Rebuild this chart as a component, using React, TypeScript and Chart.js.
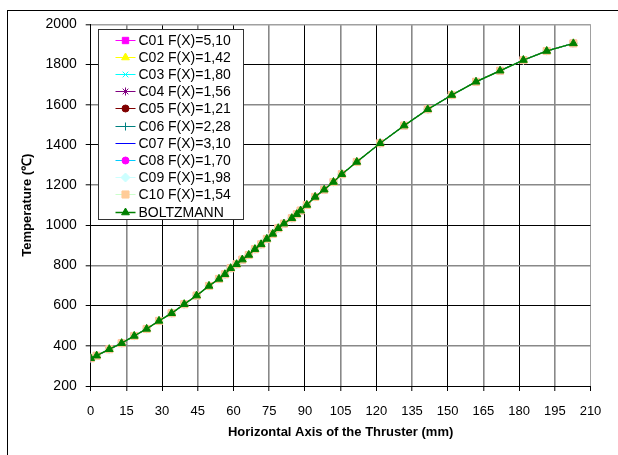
import React, { useEffect, useRef } from 'react';
import { Chart, registerables } from 'chart.js';
import { drawPoint } from 'chart.js/helpers';

Chart.register(...registerables);

// Positions along the thruster axis (mm)
const positions = [
  0, 2.5, 7.8, 13, 18.3, 23.5, 28.7, 34, 39.3, 44.5, 49.7, 53.9, 56.4, 58.8, 61.3, 63.7,
  66.4, 69, 71.6, 74, 76.5, 78.8, 81.2, 84.5, 86.6, 88.2, 90.8, 94.3, 98.1, 102, 105.5,
  111.8, 121.6, 131.7, 141.6, 151.7, 161.9, 172, 181.8, 191.6, 202.8,
];

// Temperatures (°C) — all series overlap on the picture
const temperatures = [
  338, 351, 383, 413, 449, 484, 524, 562, 607, 650, 698, 733, 756, 786, 806, 829,
  852, 881, 905, 932, 957, 985, 1008, 1035, 1055, 1073, 1101, 1141, 1177, 1215, 1254,
  1315, 1408, 1496, 1577, 1648, 1714, 1769, 1822, 1867, 1905,
];

const seriesNames = [
  'C01 F(X)=5,10',
  'C02 F(X)=1,42',
  'C03 F(X)=1,80',
  'C04 F(X)=1,56',
  'C05 F(X)=1,21',
  'C06 F(X)=2,28',
  'C07 F(X)=3,10',
  'C08 F(X)=1,70',
  'C09 F(X)=1,98',
  'C10 F(X)=1,54',
  'BOLTZMANN',
];

const lineColors = [
  '#FF00FF', '#FFFF00', '#00FFFF', '#800080', '#800000', '#008080',
  '#0000FF', '#00CCFF', '#CCFFFF', '#CCFFCC', '#008000',
];
const markerColors = [
  '#FF00FF', '#FFFF00', '#00FFFF', '#800080', '#800000', '#008080',
  '#0000FF', '#FF00FF', '#CCFFFF', '#FFCC99', '#008000',
];
const markerStyles = [
  'rect', 'triangle', 'crossRot', 'star', 'circle', 'cross',
  'line', 'circle', 'rectRot', 'rect', 'triangle',
];
const markerSizes = [4.5, 4.5, 4, 4, 3.5, 4, 3, 3.5, 4.5, 5, 4.5];

const xTickStep = 15;
const xMin = 0;
const xMax = 210;
const yTickStep = 200;
const yMin = 200;
const yMax = 2000;

const FONT = '"Liberation Sans", Arial, Helvetica, sans-serif';

const insideLegend = {
  id: 'insideLegend',
  afterDraw(chart: any) {
    const { ctx, chartArea } = chart;
    const x0 = Math.round(chartArea.left + 7.6) + 0.5;
    const y0 = Math.round(chartArea.top + 5) + 0.5;
    const w = 145;
    const h = 190;
    ctx.save();
    ctx.fillStyle = '#ffffff';
    ctx.fillRect(x0, y0, w, h);
    ctx.strokeStyle = '#333333';
    ctx.lineWidth = 1;
    ctx.strokeRect(x0, y0, w, h);
    chart.data.datasets.forEach((ds: any, i: number) => {
      const cy = Math.round(y0 + 10 + i * 17.2) + 0.5;
      ctx.strokeStyle = ds.borderColor;
      ctx.lineWidth = ds.borderWidth;
      ctx.beginPath();
      ctx.moveTo(x0 + 17, cy);
      ctx.lineTo(x0 + 37, cy);
      ctx.stroke();
      ctx.fillStyle = ds.pointBackgroundColor;
      ctx.strokeStyle = ds.pointBorderColor;
      ctx.lineWidth = 1;
      drawPoint(ctx, { pointStyle: ds.pointStyle, radius: ds.pointRadius, borderWidth: 1, rotation: 0 }, x0 + 27, cy);
      ctx.fillStyle = '#000000';
      ctx.font = `14px ${FONT}`;
      ctx.textBaseline = 'middle';
      ctx.textAlign = 'left';
      ctx.fillText(ds.label, x0 + 40, cy + 0.5);
    });
    ctx.restore();
  },
};

function gridColor(ctx: any, lastIndex: number) {
  if (ctx.index === lastIndex) return '#a0a0a0';
  return ctx.index % 2 === 0 ? '#000000' : '#888888';
}
function gridWidth(ctx: any) {
  return ctx.index % 2 === 0 ? 1 : 1.6;
}

export default function App() {
  const canvasRef = useRef<HTMLCanvasElement | null>(null);

  useEffect(() => {
    if (!canvasRef.current) return;
    const datasets = seriesNames.map((name, i) => ({
      label: name,
      data: positions.map((x, k) => ({ x, y: temperatures[k] })),
      borderColor: lineColors[i],
      backgroundColor: lineColors[i],
      borderWidth: i === 10 ? 1.5 : 1,
      pointStyle: markerStyles[i],
      pointRadius: markerSizes[i],
      pointBackgroundColor: markerColors[i],
      pointBorderColor: markerColors[i],
      pointBorderWidth: 1,
      tension: 0,
      order: seriesNames.length - 1 - i,
    }));

    const chart = new Chart(canvasRef.current, {
      type: 'line',
      data: { datasets },
      options: {
        animation: false,
        responsive: false,
        devicePixelRatio: 1,
        layout: { padding: { left: 0, right: 27.5, top: 24.3, bottom: 0 } },
        plugins: {
          legend: { display: false },
          tooltip: { enabled: false },
        },
        scales: {
          x: {
            type: 'linear',
            min: xMin,
            max: xMax,
            afterFit: (s: any) => { s.height = 69; },
            ticks: {
              stepSize: xTickStep,
              color: '#000',
              font: { family: FONT, size: 13 },
              padding: 13,
              maxRotation: 0,
              autoSkip: false,
              callback: (v: any) => String(v),
            },
            grid: {
              color: (c: any) => gridColor(c, 14),
              lineWidth: gridWidth,
              tickColor: '#000',
              tickWidth: 1,
              tickLength: 5,
            },
            border: { color: '#000', width: 1 },
            title: {
              display: true,
              text: 'Horizontal Axis of the Thruster (mm)',
              color: '#000',
              font: { family: FONT, size: 13, weight: 'bold' },
              padding: { top: 0, bottom: 15 },
            },
          },
          y: {
            type: 'linear',
            min: yMin,
            max: yMax,
            afterFit: (s: any) => { s.width = 90.7; },
            ticks: {
              stepSize: yTickStep,
              color: '#000',
              font: { family: FONT, size: 14 },
              padding: 9,
              autoSkip: false,
              callback: (v: any) => String(v),
            },
            grid: {
              color: (c: any) => gridColor(c, 9),
              lineWidth: gridWidth,
              tickColor: '#000',
              tickWidth: 1,
              tickLength: 5,
            },
            border: { color: '#000', width: 1 },
            title: {
              display: true,
              text: 'Temperature (℃)',
              color: '#000',
              font: { family: FONT, size: 13, weight: 'bold' },
              padding: { top: 20, bottom: 0 },
            },
          },
        },
      },
      plugins: [insideLegend],
    } as any);

    return () => chart.destroy();
  }, []);

  return (
    <div style={{ position: 'fixed', left: 0, top: 0, width: 618, height: 455, background: '#fff', overflow: 'hidden' }}>
      <div
        style={{
          position: 'absolute',
          left: 7,
          top: 10,
          width: 800,
          height: 800,
          borderLeft: '1px solid #000',
          borderTop: '1px solid #000',
        }}
      />
      <canvas
        ref={canvasRef}
        width={618}
        height={455}
        style={{ position: 'absolute', left: 0, top: 0, width: 618, height: 455, display: 'block' }}
      />
    </div>
  );
}
